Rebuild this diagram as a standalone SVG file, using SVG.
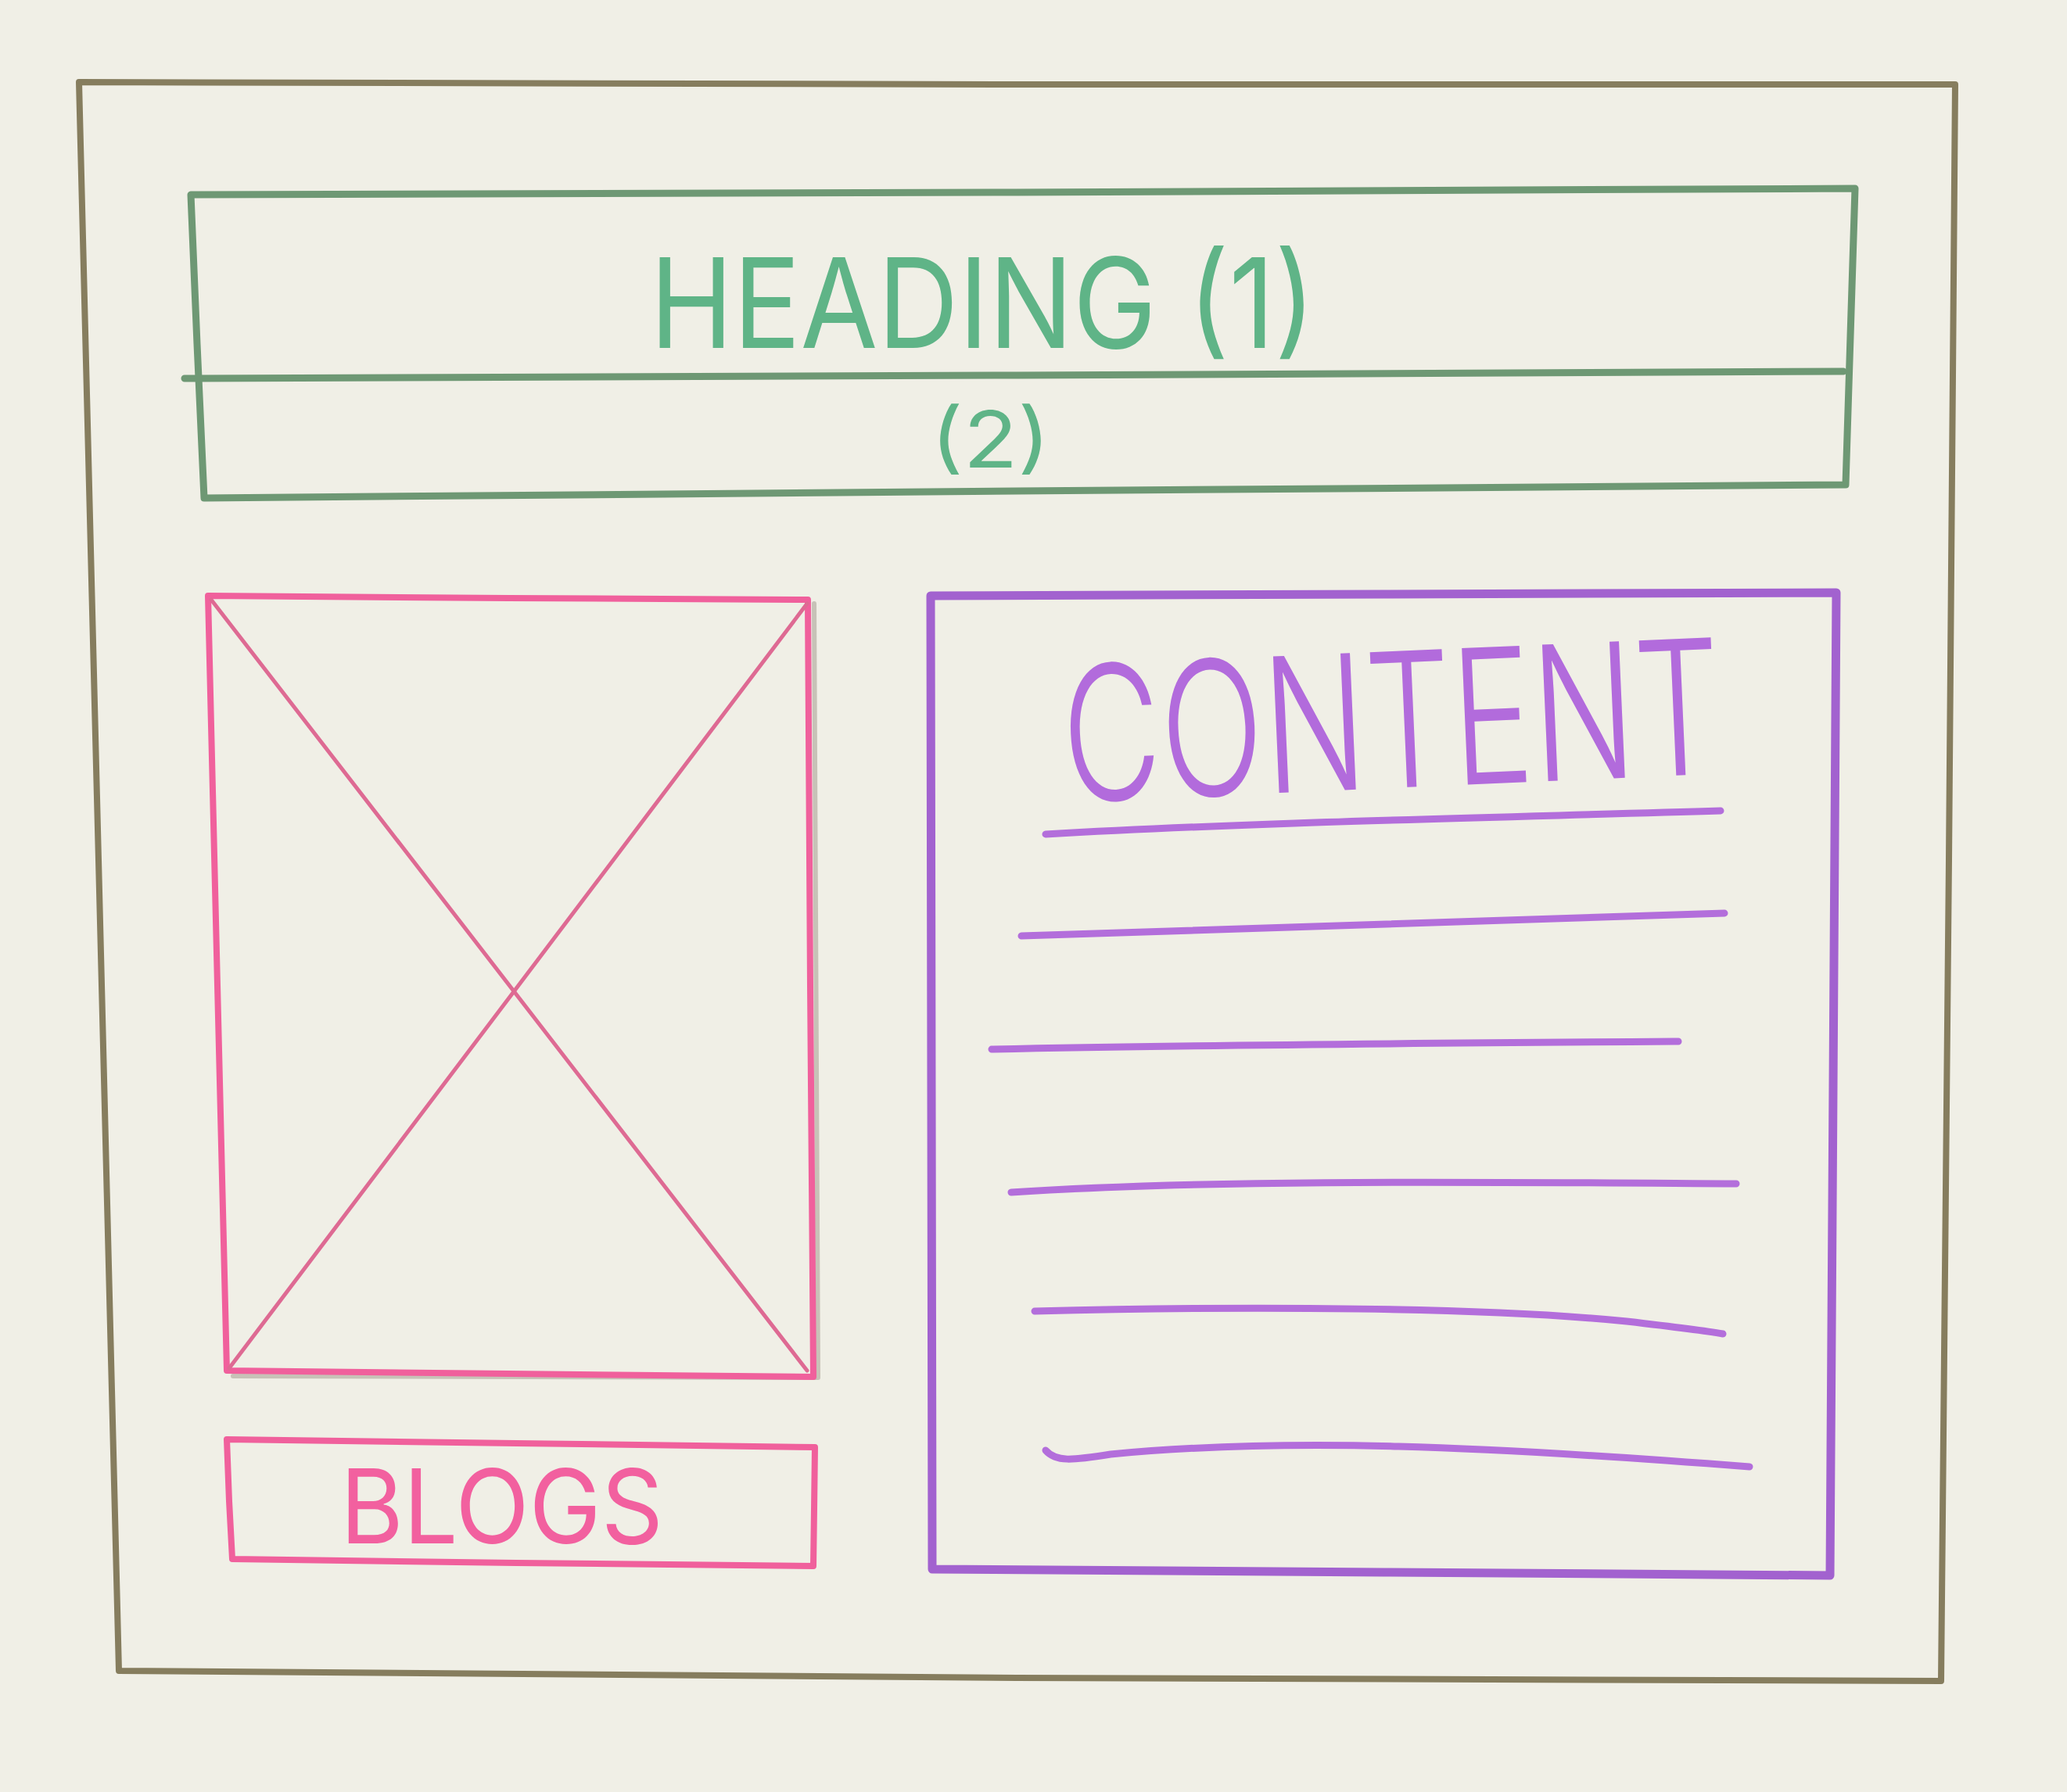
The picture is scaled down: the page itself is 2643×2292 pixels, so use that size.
<svg xmlns="http://www.w3.org/2000/svg" width="2643" height="2292" viewBox="0 0 2643 2292">
  <defs>
    <style>
      .ink { fill: none; stroke-linecap: round; stroke-linejoin: round; }
      .frame { stroke: #867d5e; stroke-width: 8; }
      .green-box { stroke: #6e9874; stroke-width: 9; }
      .pencil { stroke: #a59d90; stroke-width: 6; opacity: 0.55; }
      .pink-box { stroke: #f0609c; stroke-width: 8; }
      .pink-diag { stroke: #de6a93; stroke-width: 5; }
      .purple-box { stroke: #a262cf; stroke-width: 11; }
      .purple-line { stroke: #b36edb; stroke-width: 9; }
      .hand { font-family: Inter, "Open Sans", "DejaVu Sans", sans-serif; font-weight: 300; }
      .green-text { fill: #5fb487; font-weight: 400; }
      .pink-text { fill: #f2609f; font-weight: 400; }
      .purple-text { fill: #b26bdc; }
    </style>
  </defs>

  <!-- paper -->
  <rect x="0" y="0" width="2643" height="2292" fill="#f0efe6"/>

  <!-- page frame -->
  <g id="page-frame">
    <path class="ink frame" d="M101,105 L1300,108 L2500,108 L2492,1100 L2482,2150 L1300,2146 L152,2137 L126,1100 Z"/>
  </g>

  <!-- heading bar with sub-heading row -->
  <g id="heading">
    <path class="ink green-box" d="M244,249 L1300,246 L2372,241 L2366,430 L2360,620 L1300,628 L261,637 L252,440 Z"/>
    <path class="ink green-box" d="M236,484 L1300,480 L2357,475"/>
    <text class="hand green-text" x="831" y="445" font-size="160" textLength="851" lengthAdjust="spacingAndGlyphs">HEADING (1)</text>
  </g>

  <g id="subheading">
    <text class="hand green-text" x="1190" y="598" font-size="100" textLength="153" lengthAdjust="spacingAndGlyphs">(2)</text>
  </g>

  <!-- image placeholder -->
  <g id="image-placeholder">
    <path class="ink pencil" d="M1041,772 L1046,1762 L298,1760"/>
    <path class="ink pink-box" d="M266,762 L650,765 L1033,767 L1036,1260 L1040,1761 L650,1757 L290,1753 L278,1260 Z"/>
    <path class="ink pink-diag" d="M270,767 L1032,1753"/>
    <path class="ink pink-diag" d="M1032,772 L293,1750"/>
  </g>

  <!-- blogs button -->
  <g id="blogs">
    <path class="ink pink-box" d="M290,1841 L660,1846 L1042,1851 L1041,1930 L1040,2003 L660,1999 L297,1994 L293,1920 Z"/>
    <text class="hand pink-text" x="435" y="1974" font-size="132" textLength="413" lengthAdjust="spacingAndGlyphs">BLOGS</text>
  </g>

  <!-- content panel -->
  <g id="content">
    <path class="ink purple-box" d="M1190,762 L1770,760 L2348,758 L2344,1390 L2340,2015 L1770,2011 L1192,2007 L1191,1390 Z"/>
    <text class="hand purple-text" x="1362" y="1026" font-size="240" textLength="843" lengthAdjust="spacingAndGlyphs" transform="rotate(-2.5 1362 1026)">CONTENT</text>
    <path class="ink purple-line" d="M1337,1067 C1600,1052 1900,1046 2200,1037"/>
    <path class="ink purple-line" d="M1306,1197 C1600,1190 1900,1178 2205,1168"/>
    <path class="ink purple-line" d="M1268,1342 C1550,1336 1850,1334 2146,1332"/>
    <path class="ink purple-line" d="M1293,1525 C1550,1508 1900,1512 2220,1514"/>
    <path class="ink purple-line" d="M1323,1677 C1600,1670 1900,1672 2080,1690 C2140,1697 2180,1702 2203,1706"/>
    <path class="ink purple-line" d="M1337,1855 C1350,1870 1370,1868 1420,1860 C1650,1838 1900,1850 2237,1876"/>
  </g>

  <!-- no connectors in this layout -->
  <g id="connectors"/>
</svg>
